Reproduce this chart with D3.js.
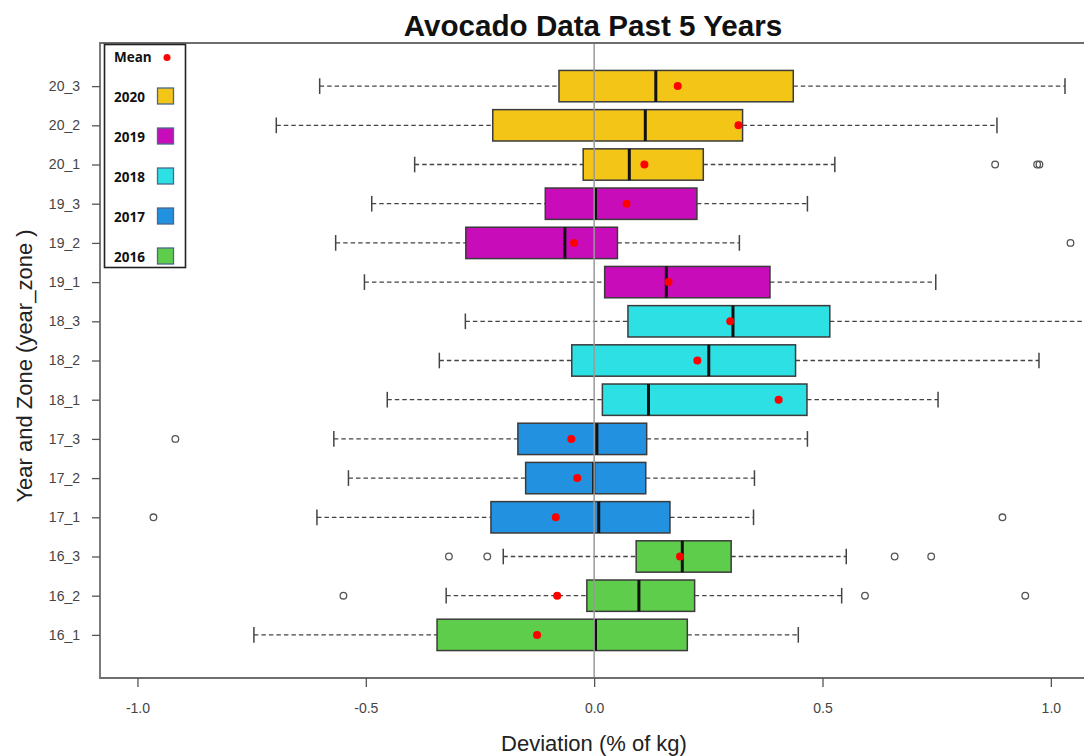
<!DOCTYPE html>
<html>
<head>
<meta charset="utf-8">
<script src="https://cdn.jsdelivr.net/npm/d3@7"></script>
<style>
  html, body { margin: 0; padding: 0; background: #fff; }
  svg { display: block; }
</style>
</head>
<body>
<svg id="chart" width="1084" height="756"></svg>
<script>
// Year_zone groups, listed bottom to top
const categories = ["16_1","16_2","16_3","17_1","17_2","17_3","18_1","18_2","18_3","19_1","19_2","19_3","20_1","20_2","20_3"];
const lowerWhisker = [-0.745, -0.324, -0.199, -0.607, -0.538, -0.570, -0.453, -0.339, -0.282, -0.503, -0.566, -0.487, -0.393, -0.696, -0.601];
const q1 =           [-0.344, -0.016,  0.092, -0.226, -0.150, -0.167,  0.018, -0.049,  0.074,  0.023, -0.281, -0.107, -0.024, -0.222, -0.077];
const medians =      [ 0.003,  0.098,  0.193,  0.010, -0.001,  0.006,  0.119,  0.251,  0.304,  0.158, -0.064,  0.003,  0.077,  0.112,  0.135];
const q3 =           [ 0.204,  0.220,  0.300,  0.166,  0.113,  0.115,  0.466,  0.441,  0.516,  0.385,  0.051,  0.225,  0.239,  0.325,  0.436];
const upperWhisker = [ 0.447,  0.542,  0.552,  0.349,  0.351,  0.467,  0.753,  0.974,  1.120,  0.748,  0.318,  0.467,  0.527,  0.882,  1.031];
const means =        [-0.125, -0.081,  0.188, -0.084, -0.037, -0.050,  0.404,  0.226,  0.298,  0.163, -0.044,  0.071,  0.110,  0.316,  0.183];
const outliers = [
  [], [-0.549, 0.593, 0.944], [-0.318, -0.234, 0.658, 0.738],
  [-0.965, 0.894], [], [-0.917],
  [], [], [],
  [], [1.043], [],
  [0.878, 0.970, 0.975], [], []
];
const years = ["2020","2019","2018","2017","2016"];
const yearColors = ["#F3C516","#C90CBA","#2CE0E3","#2191E0","#5ECD4B"];
const xTicks = [-1.0, -0.5, 0.0, 0.5, 1.0];

const svg = d3.select("#chart");

// Plot region (right side runs past the canvas edge)
const plotLeft = 100, plotTop = 43, plotBottom = 678;
const pxPerUnit = 456.7;
const x = d3.scaleLinear().domain([-1.082, 1.12]).range([plotLeft, plotLeft + 2.202 * pxPerUnit]);
const yPos = d3.scaleLinear().domain([-0.1, 16.1]).range([plotBottom, plotTop]);
const y = d3.scalePoint().domain(categories).range([yPos(1), yPos(15)]);
const half = yPos(0) - yPos(0.4);      // half box height (boxwex 0.8)
const capHalf = yPos(0) - yPos(0.2);   // half staple height

const colorOf = d3.scaleOrdinal().domain(years).range(yearColors);
const yearOf = c => "20" + c.slice(0, 2);

const rows = categories.map((c, i) => ({
  c, lw: lowerWhisker[i], q1: q1[i], med: medians[i], q3: q3[i],
  uw: upperWhisker[i], mean: means[i], out: outliers[i]
}));

const plot = svg.append("g");

// Whiskers
plot.selectAll(".wl").data(rows).join("line")
  .attr("x1", d => x(d.lw)).attr("x2", d => x(d.q1))
  .attr("y1", d => y(d.c)).attr("y2", d => y(d.c))
  .attr("stroke", "#444").attr("stroke-width", 1.3).attr("stroke-dasharray", "4.5,3");
plot.selectAll(".wu").data(rows).join("line")
  .attr("x1", d => x(d.q3)).attr("x2", d => x(d.uw))
  .attr("y1", d => y(d.c)).attr("y2", d => y(d.c))
  .attr("stroke", "#444").attr("stroke-width", 1.3).attr("stroke-dasharray", "4.5,3");

// Staples
["lw", "uw"].forEach(k => {
  plot.selectAll(".cap-" + k).data(rows).join("line")
    .attr("x1", d => x(d[k])).attr("x2", d => x(d[k]))
    .attr("y1", d => y(d.c) - capHalf).attr("y2", d => y(d.c) + capHalf)
    .attr("stroke", "#444").attr("stroke-width", 1.5);
});

// Boxes
plot.selectAll(".box").data(rows).join("rect")
  .attr("x", d => x(d.q1)).attr("width", d => x(d.q3) - x(d.q1))
  .attr("y", d => y(d.c) - half).attr("height", 2 * half)
  .attr("fill", d => colorOf(yearOf(d.c)))
  .attr("stroke", "#3b3b3b").attr("stroke-width", 1.5);

// Medians
plot.selectAll(".med").data(rows).join("line")
  .attr("x1", d => x(d.med)).attr("x2", d => x(d.med))
  .attr("y1", d => y(d.c) - half).attr("y2", d => y(d.c) + half)
  .attr("stroke", "#111").attr("stroke-width", 3);

// Outliers
const outPts = rows.flatMap(d => d.out.map(v => ({ c: d.c, v })));
plot.selectAll(".out").data(outPts).join("circle")
  .attr("cx", d => x(d.v)).attr("cy", d => y(d.c)).attr("r", 3.3)
  .attr("fill", "none").attr("stroke", "#555").attr("stroke-width", 1.3);

// Zero reference line
plot.append("line")
  .attr("x1", x(0)).attr("x2", x(0)).attr("y1", plotTop).attr("y2", plotBottom)
  .attr("stroke", "#999").attr("stroke-width", 1.5);

// Means
plot.selectAll(".mean").data(rows).join("circle")
  .attr("cx", d => x(d.mean)).attr("cy", d => y(d.c)).attr("r", 4)
  .attr("fill", "#FF0000");

// Frame
const frame = svg.append("g").attr("fill", "none").attr("stroke", "#6e6e6e").attr("stroke-width", 1.8);
frame.append("path").attr("d", `M${x.range()[1]},${plotTop}H${plotLeft}V${plotBottom}H${x.range()[1]}`);

// X axis
const xAxis = svg.append("g").attr("transform", `translate(0,${plotBottom})`)
  .call(d3.axisBottom(x).tickValues(xTicks)
    .tickFormat(d => d3.format(".1f")(d).replace("\u2212", "-"))
    .tickSize(9).tickPadding(16));
xAxis.select(".domain").remove();
xAxis.selectAll(".tick line").attr("stroke", "#555").attr("stroke-width", 1.3);
xAxis.selectAll(".tick text").attr("fill", "#444")
  .style("font-family", "'Liberation Sans', Arial, sans-serif").style("font-size", "14px");

// Y axis
const yAxis = svg.append("g").attr("transform", `translate(${plotLeft},0)`)
  .call(d3.axisLeft(y).tickSize(8).tickPadding(12));
yAxis.select(".domain").remove();
yAxis.selectAll(".tick line").attr("stroke", "#555").attr("stroke-width", 1.3);
yAxis.selectAll(".tick text").attr("fill", "#444")
  .style("font-family", "'Liberation Sans', Arial, sans-serif").style("font-size", "14px");

// Titles
svg.append("text").attr("x", 593).attr("y", 36).attr("text-anchor", "middle")
  .style("font-family", "'Liberation Sans', Arial, sans-serif").style("font-size", "29.6px")
  .style("font-weight", "bold").attr("fill", "#111").text("Avocado Data Past 5 Years");
svg.append("text").attr("x", 594).attr("y", 751).attr("text-anchor", "middle")
  .style("font-family", "'Liberation Sans', Arial, sans-serif").style("font-size", "22px")
  .attr("fill", "#222").text("Deviation (% of kg)");
svg.append("text").attr("transform", "translate(32,366) rotate(-90)").attr("text-anchor", "middle")
  .style("font-family", "'Liberation Sans', Arial, sans-serif").style("font-size", "22px")
  .attr("fill", "#222").text("Year and Zone (year_zone )");

// Legend
const lg = svg.append("g");
lg.append("rect").attr("x", 104.5).attr("y", 44.5).attr("width", 81).attr("height", 223)
  .attr("fill", "#fff").attr("stroke", "#222").attr("stroke-width", 1.6);
const lgFont = "'Open Sans', 'Noto Sans', sans-serif";
lg.append("text").attr("x", 114).attr("y", 62).style("font-family", lgFont)
  .style("font-size", "13.5px").style("font-weight", "bold").attr("fill", "#111").text("Mean");
lg.append("circle").attr("cx", 167).attr("cy", 57.5).attr("r", 3.5).attr("fill", "#FF0000");
const lgY = d3.scalePoint().domain(years).range([96.5, 256.5]);
lg.selectAll(".lt").data(years).join("text")
  .attr("x", 114).attr("y", d => lgY(d) + 5).style("font-family", lgFont)
  .style("font-size", "13.5px").style("font-weight", "bold").attr("fill", "#111").text(d => d);
lg.selectAll(".ls").data(years).join("rect")
  .attr("x", 157.5).attr("y", d => lgY(d) - 8.5).attr("width", 16).attr("height", 16)
  .attr("fill", d => colorOf(d)).attr("stroke", "#4a6890").attr("stroke-width", 1.3);
</script>
</body>
</html>
